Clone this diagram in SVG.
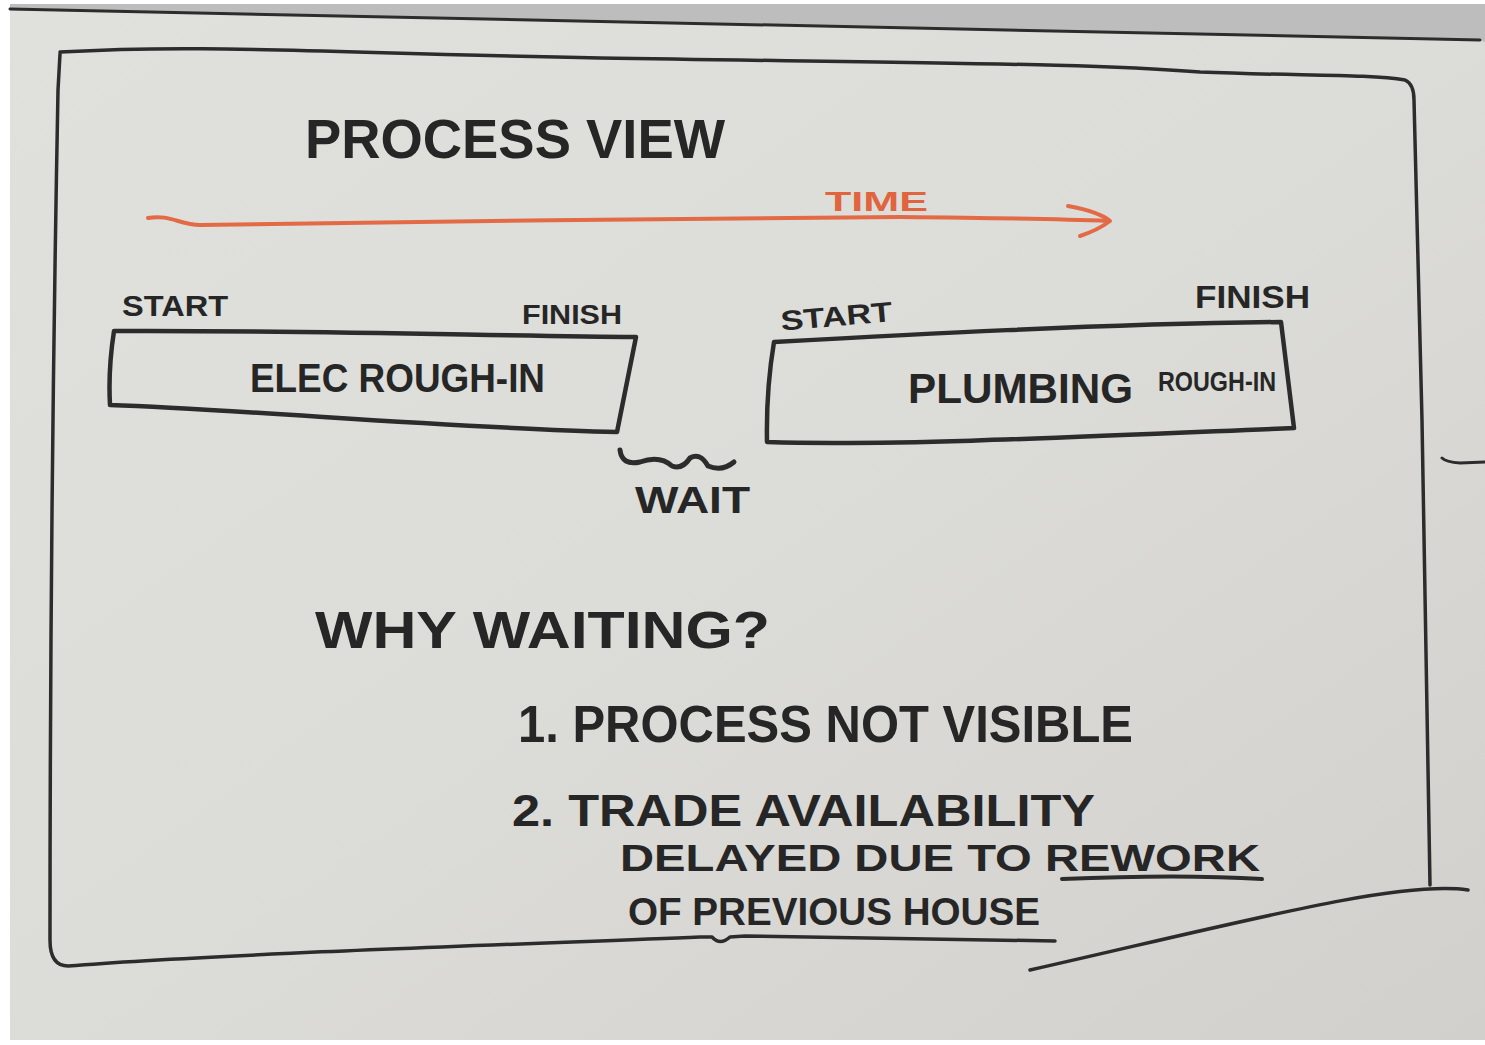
<svg xmlns="http://www.w3.org/2000/svg" width="1485" height="1045" viewBox="0 0 1485 1045">
<defs>
<linearGradient id="board" x1="0" y1="0" x2="1" y2="1">
<stop offset="0" stop-color="#e0e0dc"/>
<stop offset="0.5" stop-color="#dcdcd8"/>
<stop offset="1" stop-color="#d2d0cc"/>
</linearGradient>
<style>
.ink{fill:none;stroke:#2c2c2c;stroke-linecap:round;stroke-linejoin:round}
.frame{stroke-width:3.5}
.box{stroke-width:4.5}
.t{font-family:"Liberation Sans","DejaVu Sans",sans-serif;font-weight:bold;fill:#262626}
.o{fill:#e0643e}
.arrow{fill:none;stroke:#e36a44;stroke-width:4;stroke-linecap:round;stroke-linejoin:round}
</style>
</defs>
<rect x="0" y="0" width="1485" height="1045" fill="#ffffff"/>
<rect x="10" y="4" width="1475" height="1036" fill="url(#board)"/>
<path d="M10,4 L1485,4 L1485,42 L1480,40 L10,8 Z" fill="#bdbdbd"/>
<path d="M10,9 C400,14 900,26 1480,40" class="ink" stroke-width="3"/>

<g id="frame">
<path class="ink frame" d="M60,52 C200,44 300,52 600,58 C1000,64 1100,64 1200,72 C1300,76 1370,74 1405,80 Q1414,84 1414,100 L1422,420 L1430,885"/>
<path class="ink frame" d="M60,54 L58,90 C54,300 50,600 50,940 Q50,966 68,966 C200,955 500,945 700,937 L712,937 Q720,946 730,937 L745,936 C900,938 1000,940 1055,941"/>
<path class="ink frame" d="M1030,970 C1250,920 1400,880 1468,890"/>
<path class="ink" stroke-width="3" d="M1442,458 Q1446,462 1460,463 L1485,462"/>
</g>

<g id="title">
<text class="t" x="305" y="158" font-size="56" textLength="420" lengthAdjust="spacingAndGlyphs">PROCESS VIEW</text>
</g>

<g id="connectors">
<path class="arrow" d="M148,218 C170,214 180,225 200,225 C400,222 700,218 900,217 C1000,218 1060,219 1108,221"/>
<path class="arrow" d="M1068,206 Q1100,212 1110,221 Q1098,230 1080,236"/>
</g>
<g id="time-label">
<text class="t o" x="825" y="211" font-size="28" textLength="103" lengthAdjust="spacingAndGlyphs">TIME</text>
</g>

<g id="elec">
<path class="ink box" d="M114,331 C300,330 500,336 636,337 L617,432 C450,428 250,410 110,405 Q108,370 114,331 Z"/>
<text class="t" x="122" y="316" font-size="30" textLength="106" lengthAdjust="spacingAndGlyphs">START</text>
<text class="t" x="522" y="324" font-size="28" textLength="100" lengthAdjust="spacingAndGlyphs">FINISH</text>
<text class="t" x="250" y="392" font-size="40" textLength="295" lengthAdjust="spacingAndGlyphs">ELEC ROUGH-IN</text>
</g>

<g id="plumbing">
<path class="ink box" d="M774,342 C900,335 1100,324 1281,322 L1294,428 C1100,436 900,446 767,442 Q766,390 774,342 Z"/>
<text class="t" x="780" y="326" font-size="28" textLength="112" lengthAdjust="spacingAndGlyphs" transform="rotate(-5 836 312)">START</text>
<text class="t" x="1195" y="308" font-size="32" textLength="115" lengthAdjust="spacingAndGlyphs">FINISH</text>
<text class="t" x="908" y="403" font-size="42" textLength="225" lengthAdjust="spacingAndGlyphs">PLUMBING</text>
<text class="t" x="1158" y="391" font-size="27" textLength="118" lengthAdjust="spacingAndGlyphs">ROUGH-IN</text>
</g>

<g id="wait">
<path class="ink" stroke-width="5" d="M620,450 Q622,466 640,462 Q660,455 672,466 Q682,470 690,458 Q700,452 708,466 Q722,472 734,462"/>
<text class="t" x="635" y="513" font-size="36" textLength="115" lengthAdjust="spacingAndGlyphs">WAIT</text>
</g>

<g id="why">
<text class="t" x="315" y="648" font-size="52" textLength="455" lengthAdjust="spacingAndGlyphs">WHY WAITING?</text>
<text class="t" x="518" y="742" font-size="52" textLength="615" lengthAdjust="spacingAndGlyphs">1. PROCESS NOT VISIBLE</text>
<text class="t" x="512" y="826" font-size="44" textLength="583" lengthAdjust="spacingAndGlyphs">2. TRADE AVAILABILITY</text>
<text class="t" x="620" y="871" font-size="37" textLength="640" lengthAdjust="spacingAndGlyphs">DELAYED DUE TO REWORK</text>
<path class="ink" stroke-width="4" d="M1062,879 C1130,876 1200,875 1262,879"/>
<text class="t" x="628" y="925" font-size="38" textLength="412" lengthAdjust="spacingAndGlyphs">OF PREVIOUS HOUSE</text>
</g>
</svg>
